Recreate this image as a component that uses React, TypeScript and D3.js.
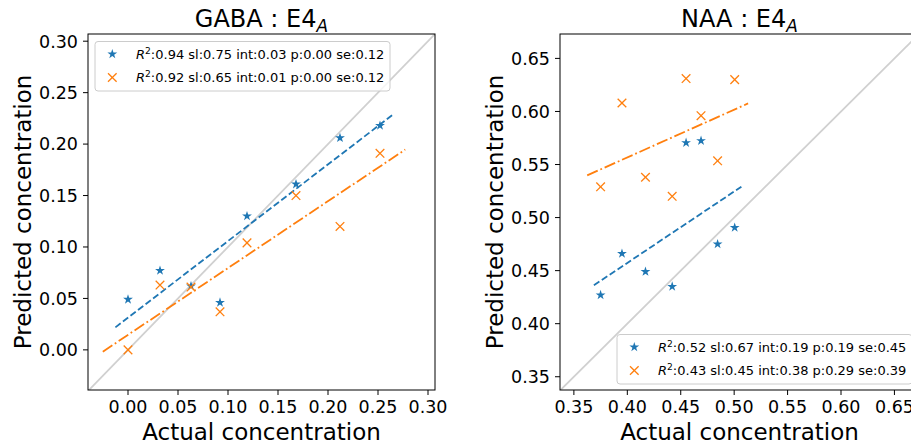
import React from 'react'
import * as d3 from 'd3'

// GABA panel
const gabaActual = [0.0, 0.032, 0.063, 0.092, 0.119, 0.168, 0.212, 0.252]
const gabaPredStar = [0.049, 0.077, 0.062, 0.046, 0.13, 0.161, 0.206, 0.218]
const gabaPredCross = [0.0, 0.063, 0.061, 0.037, 0.104, 0.15, 0.12, 0.191]
const gabaStats = [':0.94 sl:0.75 int:0.03 p:0.00 se:0.12', ':0.92 sl:0.65 int:0.01 p:0.00 se:0.12']
const gabaTicks = [0, 0.05, 0.1, 0.15, 0.2, 0.25, 0.3]

// NAA panel
const naaActual = [0.375, 0.395, 0.417, 0.442, 0.455, 0.469, 0.4845, 0.5005]
const naaPredStar = [0.427, 0.466, 0.449, 0.435, 0.5705, 0.5724, 0.475, 0.4906]
const naaPredCross = [0.529, 0.608, 0.538, 0.52, 0.631, 0.596, 0.5535, 0.63]
const naaStats = [':0.52 sl:0.67 int:0.19 p:0.19 se:0.45', ':0.43 sl:0.45 int:0.38 p:0.29 se:0.39']
const naaTicks = [0.35, 0.4, 0.45, 0.5, 0.55, 0.6, 0.65]

const blue = '#1f77b4'
const orange = '#ff7f0e'
const font = '"DejaVu Sans", sans-serif'
const fmt = d3.format('.2f')

// least squares line, returns [slope, intercept]
function linfit(xs: number[], ys: number[]) {
  const mx = d3.mean(xs)!, my = d3.mean(ys)!
  let sxy = 0, sxx = 0
  xs.forEach((x, i) => { sxy += (x - mx) * (ys[i] - my); sxx += (x - mx) * (x - mx) })
  const sl = sxy / sxx
  return [sl, my - sl * mx]
}

const starPath = d3.symbol(d3.symbolStar, 30)()

function Panel(props: any) {
  const { id, x0, x1, y0, y1, xDomain, yDomain, ticks, actual, predA, predB, stats, title, legendLow } = props
  const x = d3.scaleLinear().domain(xDomain).range([x0, x1])
  const y = d3.scaleLinear().domain(yDomain).range([y1, y0])
  const ext = d3.extent(actual) as [number, number]
  const span = ext[1] - ext[0]
  const fits = [linfit(actual, predA), linfit(actual, predB)]
  const pads = [0.05, 0.1]
  const fitLine = (k: number) => {
    const a = ext[0] - pads[k] * span, b = ext[1] + pads[k] * span
    const [sl, ic] = fits[k]
    return d3.line()([[x(a), y(sl * a + ic)], [x(b), y(sl * b + ic)]])!
  }
  const lw = 295, lh = 49.5
  const lx = legendLow ? x1 - 7 - lw : x0 + 7
  const ly = legendLow ? y1 - 6 - lh : y0 + 7.5
  const cx = (x0 + x1) / 2
  return (
    <g>
      <defs>
        <clipPath id={'clip' + id}>
          <rect x={x0} y={y0} width={x1 - x0} height={y1 - y0} />
        </clipPath>
      </defs>
      <g clipPath={`url(#clip${id})`}>
        <line x1={x(xDomain[0])} y1={y(xDomain[0])} x2={x(xDomain[1])} y2={y(xDomain[1])}
          stroke="#d0d0d0" strokeWidth={1.8} />
        {actual.map((v: number, i: number) => (
          <path key={'s' + i} d={starPath} transform={`translate(${x(v)},${y(predA[i])})`} fill={blue} />
        ))}
        <path d={fitLine(0)} stroke={blue} strokeWidth={1.8} strokeDasharray="6.6,2.9" fill="none" />
        {actual.map((v: number, i: number) => (
          <g key={'c' + i} transform={`translate(${x(v)},${y(predB[i])})`} stroke={orange} strokeWidth={1.3}>
            <line x1={-4.3} y1={-4.3} x2={4.3} y2={4.3} />
            <line x1={-4.3} y1={4.3} x2={4.3} y2={-4.3} />
          </g>
        ))}
        <path d={fitLine(1)} stroke={orange} strokeWidth={1.8} strokeDasharray="11.5,2.9,1.8,2.9" fill="none" />
      </g>
      <rect x={x0} y={y0} width={x1 - x0} height={y1 - y0} fill="none" stroke="#000" strokeWidth={1} />
      {ticks.map((t: number) => (
        <g key={'x' + t}>
          <line x1={x(t)} x2={x(t)} y1={y1} y2={y1 + 5} stroke="#000" />
          <text x={x(t)} y={413.3} textAnchor="middle" fontSize={17.5}>{fmt(t)}</text>
        </g>
      ))}
      {ticks.map((t: number) => (
        <g key={'y' + t}>
          <line x1={x0 - 5} x2={x0} y1={y(t)} y2={y(t)} stroke="#000" />
          <text x={x0 - 10} y={y(t)} dy="0.36em" textAnchor="end" fontSize={17.5}>{fmt(t)}</text>
        </g>
      ))}
      <text x={cx} y={27} textAnchor="middle" fontSize={24}>
        {title} : E4<tspan fontStyle="italic" fontSize={17} dy={5}>A</tspan>
      </text>
      <text x={cx} y={440} textAnchor="middle" fontSize={23}>Actual concentration</text>
      <text transform={`translate(${x0 - 57.5},${(y0 + y1) / 2}) rotate(-90)`} textAnchor="middle" fontSize={23}>
        Predicted concentration
      </text>
      <rect x={lx} y={ly} width={lw} height={lh} rx={3} fill="#fff" fillOpacity={0.8} stroke="#cccccc" />
      {stats.map((s: string, k: number) => {
        const ry = ly + 12.6 + k * 23.4
        return (
          <g key={'l' + k}>
            {k === 0
              ? <path d={starPath} transform={`translate(${lx + 17.3},${ry})`} fill={blue} />
              : <g transform={`translate(${lx + 17.3},${ry})`} stroke={orange} strokeWidth={1.3}>
                  <line x1={-4.3} y1={-4.3} x2={4.3} y2={4.3} />
                  <line x1={-4.3} y1={4.3} x2={4.3} y2={-4.3} />
                </g>}
            <text x={lx + 41} y={ry + 4.7} fontSize={13}>
              <tspan fontStyle="italic">R</tspan>
              <tspan fontSize={9.1} dy={-5}>2</tspan>
              <tspan dy={5}>{s}</tspan>
            </text>
          </g>
        )
      })}
    </g>
  )
}

export default function App() {
  return (
    <svg width={911} height={446} style={{ position: 'absolute', left: 0, top: 0, background: '#fff' }}
      fontFamily={font} fill="#000">
      <Panel id="g" x0={88} x1={435} y0={34} y1={390} xDomain={[-0.04, 0.307]} yDomain={[-0.039, 0.307]}
        ticks={gabaTicks} actual={gabaActual} predA={gabaPredStar} predB={gabaPredCross}
        stats={gabaStats} title="GABA" legendLow={false} />
      <Panel id="n" x0={560} x1={919} y0={34} y1={390} xDomain={[0.337, 0.673]} yDomain={[0.3375, 0.673]}
        ticks={naaTicks} actual={naaActual} predA={naaPredStar} predB={naaPredCross}
        stats={naaStats} title="NAA" legendLow={true} />
    </svg>
  )
}
